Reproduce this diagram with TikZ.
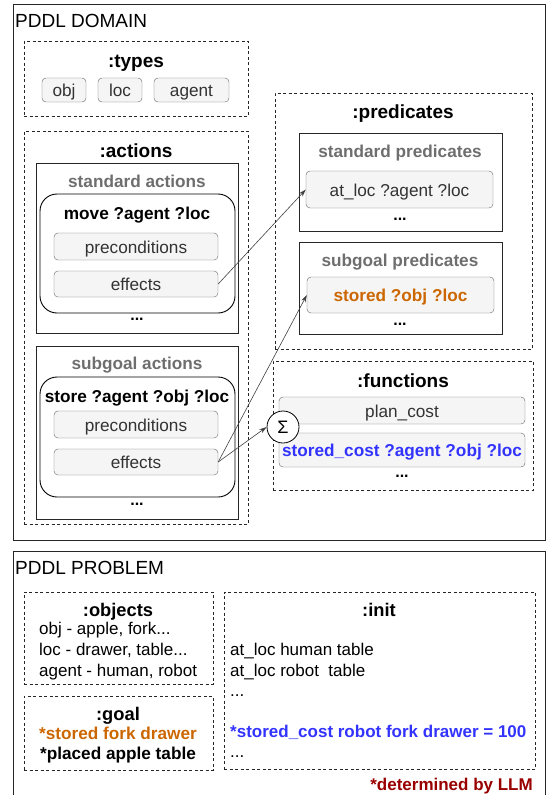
\documentclass[tikz,border=0pt]{standalone}
\usepackage{fontspec}
\setmainfont{Liberation Sans}
\usetikzlibrary{arrows.meta,positioning}

\definecolor{chipfill}{HTML}{F5F5F5}
\definecolor{chipline}{HTML}{666666}
\definecolor{titlegray}{HTML}{6E6E6E}
\definecolor{goalorange}{HTML}{CC6600}
\definecolor{costblue}{HTML}{3333FF}
\definecolor{llmred}{HTML}{990000}

\begin{document}
\begin{tikzpicture}[
  x=1pt, y=-1pt,
  outerbox/.style={draw=black!85, line width=0.8pt},
  secbox/.style={
    draw=black!85, dash pattern=on 3pt off 2.5pt, line width=0.7pt,
    inner sep=0pt
  },
  grpbox/.style={draw=black!85, line width=0.8pt, inner sep=0pt},
  actbox/.style={draw=black, line width=0.9pt, rounded corners=17pt, inner sep=0pt},
  chip/.style={
    draw=chipline, fill=chipfill, rounded corners=4pt, inner sep=0pt,
    text height=14pt, text depth=1pt,
    font=\fontsize{17.2}{20}\selectfont, text=black!80
  },
  hdr/.style={anchor=west, inner sep=0pt, font=\fontsize{19}{22}\selectfont},
  sectitle/.style={inner sep=0pt, text height=15pt, text depth=1pt,
    font=\fontsize{19}{22}\selectfont\bfseries},
  grptitle/.style={inner sep=0pt, text height=14pt, text depth=1pt,
    font=\fontsize{17.2}{20}\selectfont\bfseries, text=titlegray},
  acttitle/.style={inner sep=0pt, text height=14pt, text depth=1pt,
    font=\fontsize{17.2}{20}\selectfont\bfseries},
  more/.style={inner sep=0pt, font=\fontsize{16}{20}\selectfont\bfseries},
  txt/.style={anchor=west, inner sep=0pt, text height=12pt, text depth=3pt,
    font=\fontsize{17}{20}\selectfont},
  link/.style={-{Stealth[length=2.6mm, width=1.6mm]}, line width=0.6pt, black!75}
]
\useasboundingbox (0,0) rectangle (547,795);

% ---- PDDL domain ----
\node[outerbox, minimum width=532, minimum height=536] (domain) at (279,272) {};
\node[hdr] (domlabel) at (15,21) {PDDL DOMAIN};

% types
\node[secbox, minimum width=224, minimum height=75] (types) at (136,78.5) {};
\node[sectitle] (typestitle) at (136,60) {:types};
\node[chip, minimum width=44, minimum height=24] (tobj) at (64,90) {obj};
\node[chip, minimum width=44, minimum height=24] (tloc) at (120,90) {loc};
\node[chip, minimum width=75, minimum height=24] (tagent) at (191.5,90) {agent};

% actions
\node[secbox, minimum width=224, minimum height=393] (actions) at (136,327.5) {};
\node[sectitle] (actionstitle) at (136,150) {:actions};

\node[grpbox, minimum width=202, minimum height=170] (stdact) at (137,248) {};
\node[grptitle] (stdacttitle) at (137,181) {standard actions};
\node[actbox, minimum width=195, minimum height=119] (move) at (137.5,253.5) {};
\node[acttitle] (movetitle) at (137,213) {move ?agent ?loc};
\node[chip, minimum width=164, minimum height=27] (pre1) at (136,246.5) {preconditions};
\node[chip, minimum width=164, minimum height=26] (eff1) at (136,284) {effects};
\node[more] (dots1) at (137,319) {...};

\node[grpbox, minimum width=202, minimum height=173] (subact) at (137,432.5) {};
\node[grptitle] (subacttitle) at (137,363) {subgoal actions};
\node[actbox, minimum width=195, minimum height=120] (store) at (137.5,437) {};
\node[acttitle] (storetitle) at (137,396) {store ?agent ?obj ?loc};
\node[chip, minimum width=164, minimum height=27] (pre2) at (136,424.5) {preconditions};
\node[chip, minimum width=164, minimum height=26] (eff2) at (136,462) {effects};
\node[more] (dots2) at (137,504) {...};

% predicates
\node[secbox, minimum width=257, minimum height=256] (preds) at (403.5,221) {};
\node[sectitle] (predstitle) at (403,111) {:predicates};

\node[grpbox, minimum width=203, minimum height=98] (stdpred) at (400.5,182) {};
\node[grptitle] (stdpredtitle) at (400,151) {standard predicates};
\node[chip, minimum width=187, minimum height=37] (atloc) at (399.5,189.5) {at\_loc ?agent ?loc};
\node[more] (dots3) at (400,219) {...};

\node[grpbox, minimum width=203, minimum height=92] (subpred) at (400.5,288) {};
\node[grptitle] (subpredtitle) at (400,260) {subgoal predicates};
\node[chip, minimum width=187, minimum height=36, text=goalorange,
      font=\fontsize{17.2}{20}\selectfont\bfseries] (stored) at (400.5,295) {stored ?obj ?loc};
\node[more] (dots4) at (400,324) {...};

% functions
\node[secbox, minimum width=260, minimum height=129] (funcs) at (403,425.5) {};
\node[sectitle] (funcstitle) at (403,380) {:functions};
\node[chip, minimum width=246, minimum height=27] (plancost) at (402,410.5) {plan\_cost};
\node[chip, minimum width=246, minimum height=34, text=costblue,
      font=\fontsize{17.2}{20}\selectfont\bfseries] (storedcost) at (402,450) {stored\_cost ?agent ?obj ?loc};
\node[more] (dots5) at (402,476) {...};
\node[circle, draw=black, fill=white, line width=0.8pt, minimum size=32, inner sep=0pt,
      font=\fontsize{18}{20}\selectfont] (sum) at (283,427) {Σ};

% effects -> predicates / functions
\draw[link] (eff1.east) -- (atloc.west);
\draw[link] (eff2.east) -- (stored.west);
\draw[link] (eff2.east) -- (sum.west);

% ---- PDDL problem ----
\draw[outerbox] (13,797) -- (13,551) -- (545,551) -- (545,797);
\node[hdr] (problabel) at (15,568) {PDDL PROBLEM};

% objects
\node[secbox, minimum width=189, minimum height=92] (objects) at (118.5,638) {};
\node[sectitle, font=\fontsize{18.3}{20}\selectfont\bfseries] (objtitle) at (118,609) {:objects};
\node[txt] (obj1) at (39,630) {obj - apple, fork...};
\node[txt] (obj2) at (39,651) {loc - drawer, table...};
\node[txt] (obj3) at (39,672) {agent - human, robot};

% goal
\node[secbox, minimum width=189, minimum height=74] (goal) at (118.5,733) {};
\node[sectitle, font=\fontsize{18.3}{20}\selectfont\bfseries] (goaltitle) at (118,713) {:goal};
\node[acttitle, font=\fontsize{17.2}{20}\selectfont\bfseries, text=goalorange] (goal1) at (118,733) {*stored fork drawer};
\node[acttitle, font=\fontsize{17.2}{20}\selectfont\bfseries] (goal2) at (118,753) {*placed apple table};

% init
\node[secbox, minimum width=311, minimum height=177] (init) at (379.5,680.5) {};
\node[sectitle, font=\fontsize{18.3}{20}\selectfont\bfseries] (inittitle) at (379,609) {:init};
\node[txt] (init1) at (230,651) {at\_loc human table};
\node[txt] (init2) at (230,672) {at\_loc robot\ \ table};
\node[anchor=west, inner sep=0pt, font=\fontsize{17}{20}\selectfont] (init3) at (230,696) {...};
\node[txt, font=\fontsize{17}{20}\selectfont\bfseries, text=costblue] (init4) at (230,733) {*stored\_cost robot fork drawer = 100};
\node[anchor=west, inner sep=0pt, font=\fontsize{17}{20}\selectfont] (init5) at (230,757) {...};

\node[anchor=east, inner sep=0pt, font=\fontsize{17}{20}\selectfont\bfseries, text=llmred] (llmnote) at (533,786) {*determined by LLM};

\end{tikzpicture}
\end{document}
